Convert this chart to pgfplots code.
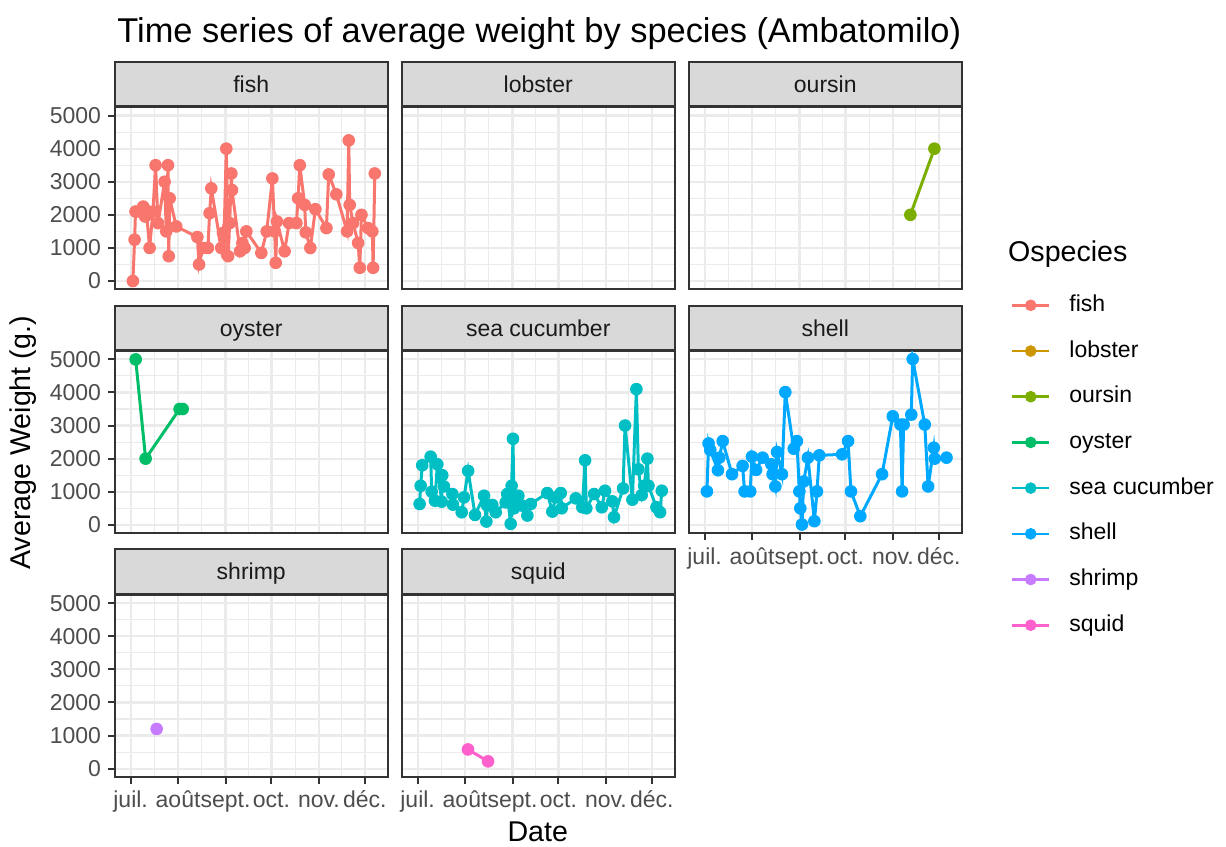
\documentclass[border=0pt]{standalone}
\usepackage{pgfplots}
\pgfplotsset{compat=1.18}
\usepackage{fontspec}
\setmainfont{Liberation Sans}

\definecolor{fishc}{HTML}{F8766D}
\definecolor{lobsterc}{HTML}{CD9600}
\definecolor{oursinc}{HTML}{7CAE00}
\definecolor{oysterc}{HTML}{00BE67}
\definecolor{seacc}{HTML}{00BFC4}
\definecolor{shellc}{HTML}{00A9FF}
\definecolor{shrimpc}{HTML}{C77CFF}
\definecolor{squidc}{HTML}{FF61CC}
\definecolor{gridc}{HTML}{EBEBEB}
\definecolor{stripc}{HTML}{D9D9D9}
\definecolor{borderc}{HTML}{333333}
\definecolor{ticklab}{HTML}{4D4D4D}
\definecolor{striptext}{HTML}{1A1A1A}

\pgfplotsset{
  panel/.style={
    scale only axis, width=136.25pt, height=91pt, anchor=north west,
    xmin=-10.2, xmax=167.8, ymin=-250, ymax=5250,
    xtick={0,31,62,92,123,153}, minor xtick={15.5,46.5,77,107.5,138},
    ytick={0,1000,2000,3000,4000,5000}, minor ytick={500,1500,2500,3500,4500},
    xticklabels={}, yticklabels={},
    scaled ticks=false,
    grid=both,
    major grid style={color=gridc, line width=1.1pt},
    minor grid style={color=gridc, line width=0.55pt},
    axis line style={color=borderc, line width=1pt},
    tick align=outside, major tick length=3.5pt, minor tick length=0pt,
    tick style={color=borderc, line width=1pt},
    xtick pos=bottom, ytick pos=left,
    tick label style={font=\fontsize{11.5}{13.8}\selectfont, text=ticklab},
    x tick label style={text height=8.5pt, text depth=2.5pt},
    every axis title/.style={at={(0.5,1)}, anchor=south, fill=stripc, draw=borderc, line width=1pt, minimum width=136.25pt, minimum height=22.25pt, inner sep=0pt, text height=8.2pt, text depth=0pt, font=\fontsize{11.5}{13.8}\selectfont, text=striptext},
    every major x tick/.append style={draw=none},
    every major y tick/.append style={draw=none},
  },
  showx/.style={xticklabels={juil.,août,sept.,oct.,nov.,déc.}, every major x tick/.append style={draw=borderc}},
  showy/.style={yticklabels={0,1000,2000,3000,4000,5000}, every major y tick/.append style={draw=borderc}},
  ser/.style={color=#1, line width=1.5pt, mark=*, mark size=2.9pt, mark options={line width=0.5pt, solid}},
}

\begin{document}
\begin{tikzpicture}
\useasboundingbox (0pt,0pt) rectangle (613pt,-423pt);

% ---------- row 1 ----------
\begin{axis}[panel, showy, at={(57.5pt,-53.65pt)}, title={fish}]
\addplot[ser=fishc] table {
x y
1.5 0
2.6 1250
3.2 2100
5.9 2100
8.2 2250
8.8 2200
9.5 1950
10.5 2000
12.4 1000
14.6 2100
16.3 3500
17.9 1750
22.2 3000
23.3 1500
24.4 3500
24.9 750
25.5 2500
29.8 1650
43.6 1330
44.7 500
47.3 1000
50.5 1000
51.6 2050
52.7 2800
59.2 1000
60.3 1450
61 1300
62.5 4000
63.7 750
64.7 1750
65.8 3250
66.2 2750
71.5 900
73 1150
74.5 1000
75.6 1500
85.4 850
88.9 1500
92.6 3100
94.1 1500
94.8 550
95.6 1800
100.6 900
103.5 1750
108.3 1750
109.4 2500
110.5 3500
113.7 2300
114.4 1470
117.4 1000
120.7 2170
127.9 1600
129.4 3220
134.4 2620
141.4 1500
142.5 4250
143.1 2300
145.3 1750
148.6 1150
149.7 400
150.8 2000
155.1 1600
157.9 1500
158.4 400
159.5 3250
};
\end{axis}

\begin{axis}[panel, at={(201pt,-53.65pt)}, title={lobster}]
\end{axis}

\begin{axis}[panel, at={(344.5pt,-53.65pt)}, title={oursin}]
\addplot[ser=oursinc] table {
x y
134.4 2000
150.1 4000
};
\end{axis}

% ---------- row 2 ----------
\begin{axis}[panel, showy, at={(57.5pt,-175.55pt)}, title={oyster}]
\addplot[ser=oysterc] table {
x y
3.3 5000
9.8 2000
32 3500
34 3500
};
\end{axis}

\begin{axis}[panel, at={(201pt,-175.55pt)}, title={sea cucumber}]
\addplot[ser=seacc] table {
x y
1.3 630
2 1180
3 1800
8.5 2060
9.2 1000
11.3 730
12.9 1830
15.7 700
16.1 1500
17.2 1160
22.7 930
23.1 610
28.8 380
30.3 830
33 1630
37.5 300
43.4 880
44.9 100
45.5 580
48.8 600
51 380
57.5 680
58.5 930
60.8 30
61.4 1180
62.3 2600
63 500
65.8 880
68.4 580
71.7 280
73.9 630
84.7 960
88 400
90.2 830
93.5 960
94.1 500
103.3 800
107.6 530
109.4 1950
110.2 500
115.3 930
120.3 530
122.4 1030
127.2 710
128.3 230
134.2 1100
135.5 3000
140.3 760
142.9 4100
144.2 1680
146.4 900
148 1180
150.1 2000
150.8 1180
156 530
158.4 380
159.5 1030
};
\end{axis}

\begin{axis}[panel, showx, at={(344.5pt,-175.55pt)}, title={shell}]
\addplot[ser=shellc] table {
x y
1.5 1010
2.6 2460
3.7 2260
8.7 1650
9.6 2030
11.8 2530
17.9 1530
24.8 1780
26.1 1010
29.8 1010
30.9 2060
33.6 1660
37.9 2030
43.6 1830
44.4 1530
46.2 1160
47.3 2200
50.5 1530
52.7 4010
58.2 2300
60.3 2530
61.9 1010
62.5 500
63.6 10
64.7 1310
67.5 2030
71.7 110
73.4 1010
74.9 2100
89.8 2130
93.7 2530
95.6 1010
101.7 260
115.9 1530
122.9 3280
127.9 3030
129 1010
130 3030
135 3330
135.9 5010
143.8 3030
146 1160
149.7 2330
150.3 2000
158 2030
};
\end{axis}

% ---------- row 3 ----------
\begin{axis}[panel, showx, showy, at={(57.5pt,-297.45pt)}, title={shrimp}]
\addplot[ser=shrimpc] table {
x y
17 1200
};
\end{axis}

\begin{axis}[panel, showx, at={(201pt,-297.45pt)}, title={squid}]
\addplot[ser=squidc] table {
x y
32.9 580
46 220
};
\end{axis}

% ---------- legend ----------
\begin{axis}[at={(0pt,0pt)}, anchor=north west, scale only axis, width=613pt, height=423pt,
  hide axis, xmin=0, xmax=1, ymin=0, ymax=1,
  legend cell align=left,
  legend style={at={(0.82463,0.6521)}, anchor=north west, draw=none, fill=none,
    inner sep=0pt, outer sep=0pt, row sep=11.85pt,
    font=\fontsize{11.5}{13.8}\selectfont,
    nodes={inner sep=0pt, text height=8.5pt, text depth=2.5pt},
    /tikz/every odd column/.append style={column sep=9.5pt}},
  legend image code/.code={\draw[mark repeat=2, mark phase=2, #1] plot coordinates {(0pt,0pt) (9.2pt,0pt) (18.4pt,0pt)};}
]
\addlegendimage{color=fishc, line width=1.3pt, mark=*, mark size=2.7pt, mark options={line width=0.4pt}}
\addlegendentry{fish}
\addlegendimage{color=lobsterc, line width=1.3pt, mark=*, mark size=2.7pt, mark options={line width=0.4pt}}
\addlegendentry{lobster}
\addlegendimage{color=oursinc, line width=1.3pt, mark=*, mark size=2.7pt, mark options={line width=0.4pt}}
\addlegendentry{oursin}
\addlegendimage{color=oysterc, line width=1.3pt, mark=*, mark size=2.7pt, mark options={line width=0.4pt}}
\addlegendentry{oyster}
\addlegendimage{color=seacc, line width=1.3pt, mark=*, mark size=2.7pt, mark options={line width=0.4pt}}
\addlegendentry{sea cucumber}
\addlegendimage{color=shellc, line width=1.3pt, mark=*, mark size=2.7pt, mark options={line width=0.4pt}}
\addlegendentry{shell}
\addlegendimage{color=shrimpc, line width=1.3pt, mark=*, mark size=2.7pt, mark options={line width=0.4pt}}
\addlegendentry{shrimp}
\addlegendimage{color=squidc, line width=1.3pt, mark=*, mark size=2.7pt, mark options={line width=0.4pt}}
\addlegendentry{squid}
\end{axis}

% ---------- titles ----------
\node[anchor=base west, inner sep=0pt, font=\fontsize{17.2}{20}\selectfont] at (58.5pt,-21pt) {Time series of average weight by species (Ambatomilo)};
\node[rotate=90, inner sep=0pt, font=\fontsize{14.3}{17}\selectfont] at (11.7pt,-221.5pt) {Average Weight (g.)};
\node[anchor=base, inner sep=0pt, font=\fontsize{14.3}{17}\selectfont] at (268.9pt,-420.5pt) {Date};
\node[anchor=base west, inner sep=0pt, font=\fontsize{14.3}{17}\selectfont] at (503.9pt,-130.5pt) {Ospecies};
\end{tikzpicture}
\end{document}
